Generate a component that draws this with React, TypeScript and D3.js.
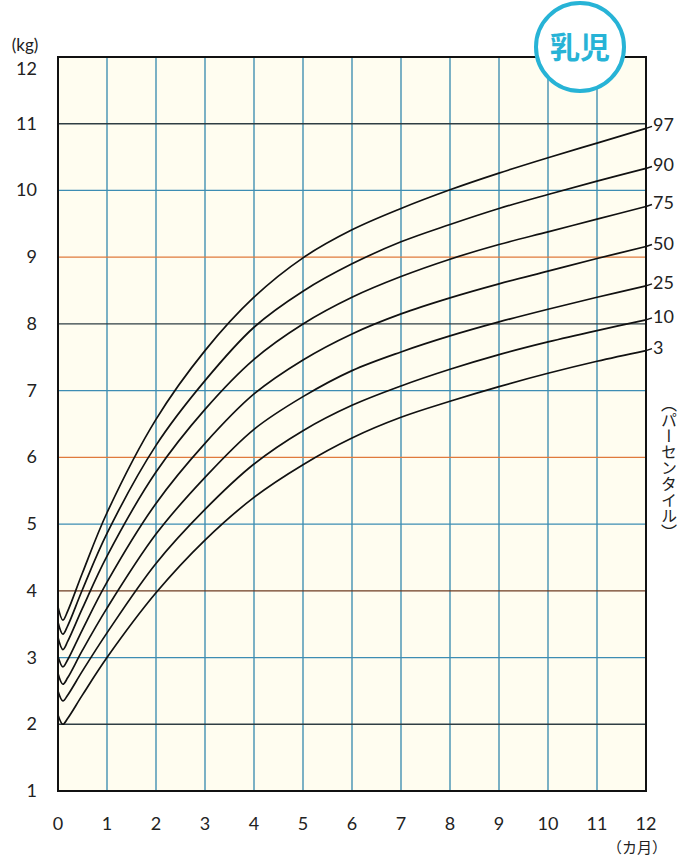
import React from "react";
import * as d3 from "d3";

const months = [0, 0.1, 0.2, 0.5, 1, 2, 3, 4, 5, 6, 7, 8, 9, 10, 11, 12];
const percentileLabels = ["97", "90", "75", "50", "25", "10", "3"];
const p97 = [3.76, 3.56, 3.70, 4.27, 5.17, 6.57, 7.60, 8.40, 8.99, 9.41, 9.73, 10.01, 10.26, 10.49, 10.71, 10.93];
const p90 = [3.53, 3.35, 3.48, 4.02, 4.86, 6.18, 7.15, 7.95, 8.49, 8.90, 9.23, 9.49, 9.73, 9.94, 10.14, 10.33];
const p75 = [3.30, 3.12, 3.245, 3.74, 4.52, 5.78, 6.72, 7.47, 8.00, 8.40, 8.71, 8.97, 9.19, 9.38, 9.57, 9.76];
const p50 = [3.02, 2.86, 2.97, 3.42, 4.13, 5.31, 6.21, 6.95, 7.46, 7.85, 8.15, 8.39, 8.60, 8.79, 8.98, 9.16];
const p25 = [2.76, 2.60, 2.70, 3.11, 3.74, 4.85, 5.70, 6.42, 6.91, 7.30, 7.58, 7.82, 8.03, 8.22, 8.40, 8.57];
const p10 = [2.50, 2.35, 2.44, 2.80, 3.37, 4.41, 5.22, 5.90, 6.40, 6.78, 7.07, 7.32, 7.54, 7.73, 7.90, 8.06];
const p3 = [2.14, 2.00, 2.09, 2.44, 3.00, 3.97, 4.76, 5.40, 5.89, 6.29, 6.60, 6.84, 7.06, 7.26, 7.44, 7.60];
const series = [p97, p90, p75, p50, p25, p10, p3];

const xTicks = [0, 1, 2, 3, 4, 5, 6, 7, 8, 9, 10, 11, 12];
const yTicks = [1, 2, 3, 4, 5, 6, 7, 8, 9, 10, 11, 12];
const gridKinds = ["", "dark", "blue", "brown", "blue", "orange", "blue", "dark", "orange", "blue", "dark", ""]; // for 1..12

const colors: Record<string, string> = {
  dark: "#2f3e44",
  blue: "#3d8db3",
  orange: "#e07a3c",
  brown: "#6e3b22",
};

export default function App() {
  const x = d3.scaleLinear().domain([0, 12]).range([58, 646]);
  const y = d3.scaleLinear().domain([1, 12]).range([791, 57]);
  const line = d3
    .line<number>()
    .x((_, i) => x(months[i]))
    .y((d) => y(d))
    .curve(d3.curveCatmullRom.alpha(0.5));
  const font = "Lato, 'Open Sans', sans-serif";
  const jp = "'Noto Sans CJK JP', sans-serif";

  return (
    <svg
      width={680}
      height={860}
      style={{ position: "absolute", left: 0, top: 0, background: "#fff" }}
    >
      <rect x={x(0)} y={y(12)} width={x(12) - x(0)} height={y(1) - y(12)} fill="#fffdf0" />
      {xTicks.slice(1, -1).map((m) => (
        <line key={"v" + m} x1={x(m)} x2={x(m)} y1={y(12)} y2={y(1)} stroke="#3489ad" strokeWidth={1.3} />
      ))}
      {yTicks.slice(1, -1).map((v, i) => (
        <line
          key={"h" + v}
          x1={x(0)}
          x2={x(12)}
          y1={y(v)}
          y2={y(v)}
          stroke={colors[gridKinds[i + 1]]}
          strokeWidth={1.3}
        />
      ))}
      <rect
        x={x(0)}
        y={y(12)}
        width={x(12) - x(0)}
        height={y(1) - y(12)}
        fill="none"
        stroke="#111"
        strokeWidth={2}
      />
      {series.map((s, i) => (
        <path key={"c" + i} d={line(s) || ""} fill="none" stroke="#111" strokeWidth={1.7} />
      ))}
      {series.map((s, i) => {
        const ye = y(s[s.length - 1]);
        return (
          <g key={"l" + i}>
            <line x1={x(12)} x2={x(12) + 6} y1={ye} y2={ye - 2} stroke="#111" strokeWidth={1.5} />
            <text x={x(12) + 7} y={ye + 3} fontFamily={font} fontSize={18} fill="#222">
              {percentileLabels[i]}
            </text>
          </g>
        );
      })}
      {yTicks.map((v) => (
        <text
          key={"yt" + v}
          x={37}
          y={y(v) + (v === 12 ? 18 : 6)}
          textAnchor="end"
          fontFamily={font}
          fontSize={18}
          fill="#222"
        >
          {v}
        </text>
      ))}
      <text x={25} y={51} textAnchor="middle" fontFamily={font} fontSize={17} fill="#222">
        (kg)
      </text>
      {xTicks.map((m) => (
        <text
          key={"xt" + m}
          x={x(m)}
          y={830}
          textAnchor="middle"
          fontFamily={font}
          fontSize={18}
          fill="#222"
        >
          {m}
        </text>
      ))}
      <text x={637} y={853} textAnchor="middle" fontFamily={jp} fontSize={15} fill="#222">
        （カ月）
      </text>
      <text
        x={669}
        y={396}
        fontFamily={jp}
        fontSize={16}
        fill="#222"
        style={{ writingMode: "vertical-rl" as any }}
      >
        （パーセンタイル）
      </text>
      <circle cx={580} cy={47} r={44} fill="#fff" stroke="#27b3d6" strokeWidth={4} />
      <text
        x={580}
        y={58}
        textAnchor="middle"
        fontFamily={jp}
        fontWeight={700}
        fontSize={30}
        fill="#27b3d6"
      >
        乳児
      </text>
    </svg>
  );
}
